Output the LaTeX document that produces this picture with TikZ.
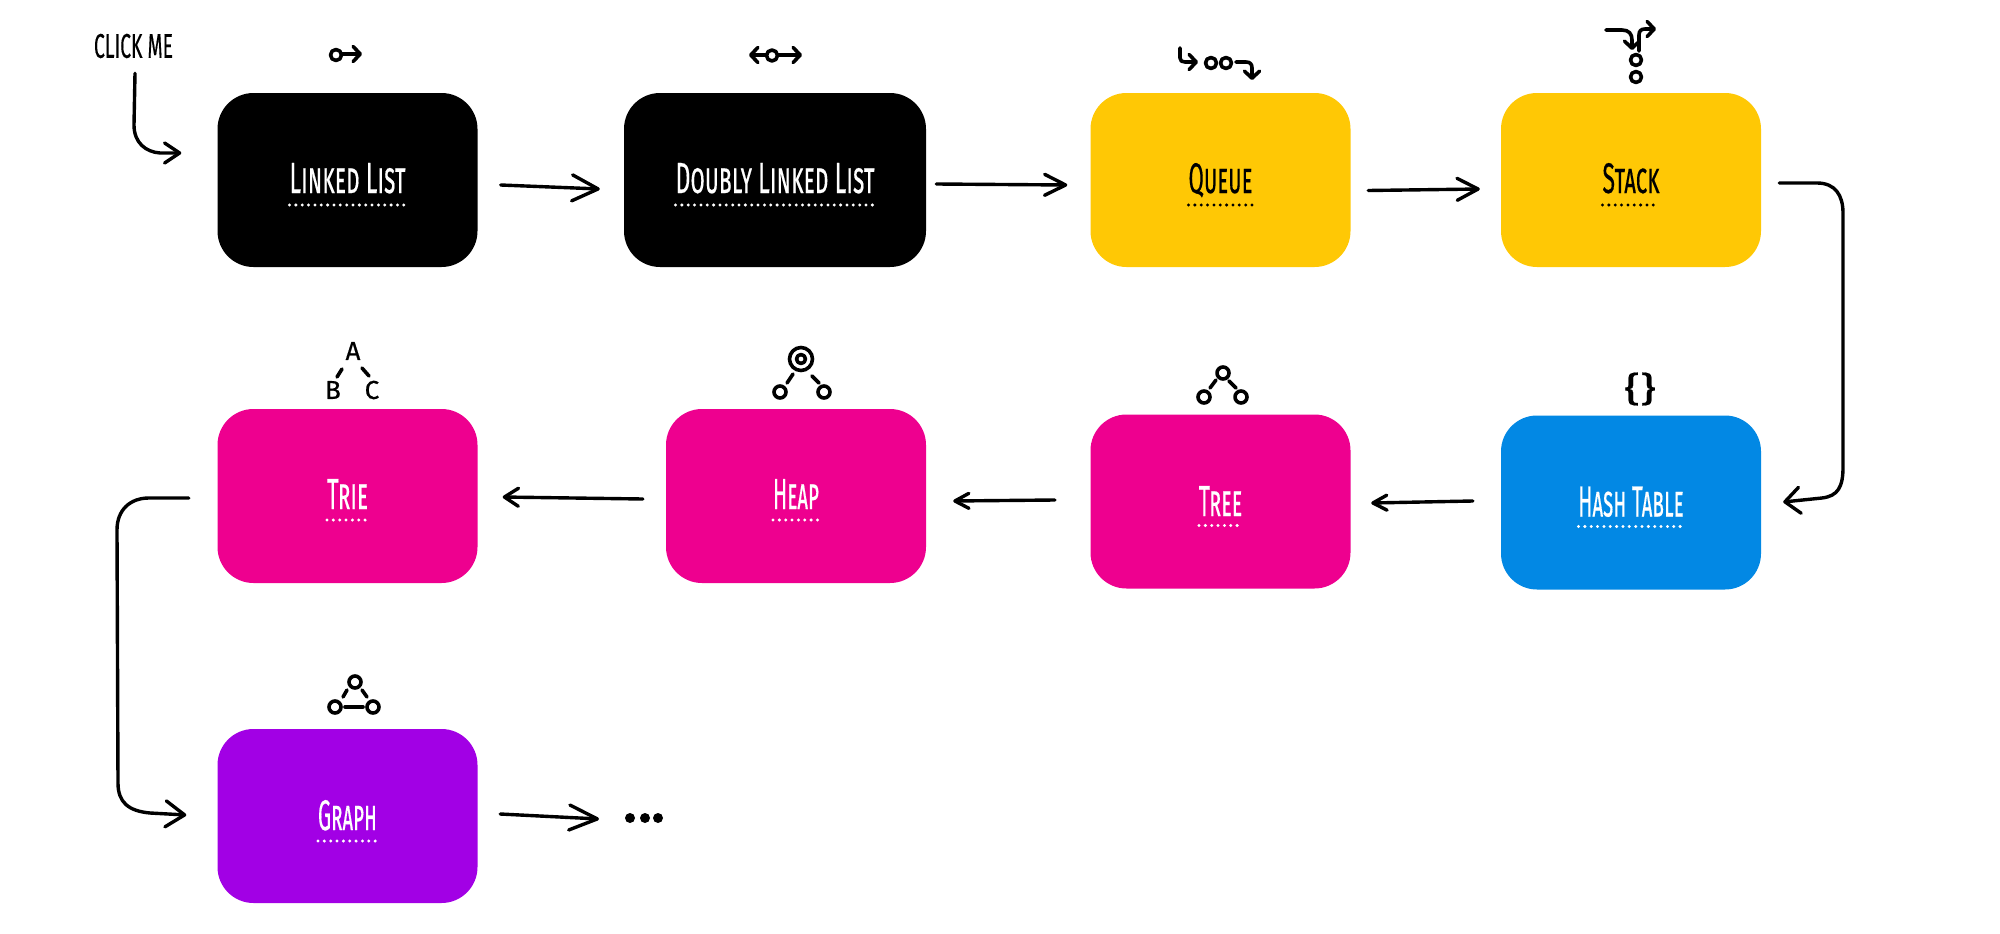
\documentclass[tikz,border=0pt]{standalone}
\usepackage{fontspec}
\usepackage{graphicx}
\usetikzlibrary{arrows.meta}
\setmainfont[Letters=SmallCaps,FakeBold=0.5]{Fira Sans}
\newfontfamily\capsfont[FakeBold=0.5]{Fira Sans}
\definecolor{cyellow}{HTML}{FFC805}
\definecolor{cpink}{HTML}{EE008F}
\definecolor{cblue}{HTML}{0288E4}
\definecolor{cpurple}{HTML}{A200E5}
\newcommand{\lab}[2]{\resizebox{#1pt}{30pt}{#2}}
\newcommand{\underdots}[3]{\draw[dotrule] ([shift={(-#2,#3)}]#1.center) -- ([shift={(#2,#3)}]#1.center);}
\tikzset{
  dsbox/.style={rectangle,rounded corners=36pt,fill=#1,draw=none,inner sep=0pt,
    minimum width=260pt,minimum height=174pt,text=white,text depth=0pt,text height=26pt},
  dotrule/.style={line width=3.3pt,line cap=round,dash pattern=on 0pt off 6.35pt,white},
  conn/.style={line width=3.4pt,line cap=round,line join=round,black},
  tipped/.style 2 args={-{Straight Barb[length=#1pt,width=#2pt,round]}},
  icon/.style={line width=3.6pt,line cap=round,line join=round,black},
  itip/.style={-{Straight Barb[length=7pt,width=15pt,round]}},
  glyph/.style={inner sep=0pt,font=\capsfont\fontsize{26}{26}\selectfont,text=black},
  dotnode/.style={circle,fill=black,inner sep=0pt,minimum size=10pt}
}
\begin{document}
\begin{tikzpicture}[x=1pt,y=-1pt]
\useasboundingbox[fill=white] (0,0) rectangle (2000,934);

% boxes
\node[dsbox=black] (ll) at (347.5,180) {\lab{116}{Linked List}};
\node[dsbox=black,minimum width=302pt] (dll) at (775,180) {\lab{199}{Doubly Linked List}};
\node[dsbox=cyellow,text=black] (queue) at (1220.5,180) {\lab{64}{Queue}};
\node[dsbox=cyellow,text=black] (stack) at (1631,180) {\lab{57}{Stack}};
\node[dsbox=cblue,text height=28pt] (hash) at (1631,502.5) {\lab{105.5}{Hash Table}};
\node[dsbox=cpink,text height=29pt] (tree) at (1220.5,501.5) {\lab{43.5}{Tree}};
\node[dsbox=cpink] (heap) at (796,496) {\lab{46}{Heap}};
\node[dsbox=cpink] (trie) at (347.5,496) {\lab{41}{Trie}};
\node[dsbox=cpurple,text height=28pt] (graph) at (347.5,816) {\lab{59}{Graph}};

% dotted rules under the titles
\underdots{ll}{58}{25}
\underdots{dll}{99.5}{25}
\begin{scope}[dotrule/.append style={black}]
\underdots{queue}{32}{25}
\underdots{stack}{28.5}{25}
\end{scope}
\underdots{hash}{52.5}{24}
\underdots{tree}{21.5}{24}
\underdots{heap}{23}{24}
\underdots{trie}{20.5}{24}
\underdots{graph}{29.5}{25}

% click me
\node[inner sep=0pt,text=black] (click) at (133.5,46) {\resizebox{79pt}{24pt}{\capsfont CLICK ME}};
\coordinate (clickin) at ([shift={(-36,-27)}]ll.west);
\draw[conn,tipped={15}{20}] ([xshift=1.5pt,yshift=-15pt]click.south) -- (134,125)
  .. controls (134,143) and (146,152) .. (160,153) -- (clickin);

% connectors
\draw[conn,tipped={26}{26}] ([shift={(23,5)}]ll.east) -- ([shift={(-24,9)}]dll.west);
\draw[conn,tipped={21}{21}] ([shift={(10,4)}]dll.east) -- ([shift={(-23,5)}]queue.west);
\draw[conn,tipped={21}{22}] ([shift={(17.5,10.5)}]queue.east) -- ([shift={(-21,9)}]stack.west);
\draw[conn,tipped={15}{26}] ([shift={(18,3)}]stack.east) -- (1817,183)
  .. controls (1835,183) and (1843,195) .. (1843,213) -- (1843,467)
  .. controls (1843,487) and (1838,496) .. (1822,498) -- ([shift={(22,-0.5)}]hash.east);
\draw[conn,tipped={14}{15}] ([shift={(-28,-1.5)}]hash.west) -- ([shift={(20.5,1.5)}]tree.east);
\draw[conn,tipped={14}{15}] ([shift={(-35.5,-1.5)}]tree.west) -- ([shift={(27,5)}]heap.east);
\draw[conn,tipped={14}{18}] ([shift={(-23,3)}]heap.west) -- ([shift={(25,1)}]trie.east);
\draw[conn,tipped={19}{26}] ([shift={(-28.5,2)}]trie.west) -- (149,498)
  .. controls (130,498) and (117,510) .. (117,530) -- (118,783)
  .. controls (118,802) and (128,811) .. (150,813) -- ([shift={(-31,-1)}]graph.west);

% trailing dots
\node[dotnode] (more1) at (630,818) {};
\node[dotnode] (more2) at (645,818) {};
\node[dotnode] (more3) at (658,818) {};
\draw[conn,tipped={28}{25}] ([shift={(22.5,-2)}]graph.east) -- ([xshift=-31pt,yshift=-1pt]more1.center);

\begin{scope}[icon]
% icon: linked list
\draw (336,55) circle[radius=5.5];
\draw[itip] (342,54) -- (362,54);
% icon: doubly linked list
\draw (772,55.5) circle[radius=5.5];
\draw[itip] (766,55) -- (749,55);
\draw[itip] (778,55) -- (802,55);
% icon: queue
\draw[itip] (1180,48) -- (1180,58) .. controls (1180,61) and (1182,62) .. (1185,62) -- (1198,62);
\draw (1211,63) circle[radius=5.5];
\draw (1226,63) circle[radius=5.5];
\draw[itip] (1236,62) -- (1246,62) .. controls (1250,62) and (1252,64) .. (1252,68) -- (1252,80);
% icon: stack
\draw[itip] (1606,30) -- (1622,30) .. controls (1629,30) and (1632,34) .. (1632,40) -- (1632,50);
\draw[itip] (1639,51) -- (1639,35) .. controls (1639,31) and (1641,29) .. (1645,29) -- (1656,29);
\draw (1636,60) circle[radius=5.5];
\draw (1636,77) circle[radius=5.5];
% icon: hash table
\node[glyph] (hashicon) at (1640,389) {\resizebox*{32pt}{33pt}{\{\}}};
% icon: tree
\draw (1223,373) circle[radius=6];
\draw (1204,397) circle[radius=6];
\draw (1241,397) circle[radius=6];
\draw (1216,380) -- (1210,388);
\draw (1229,381) -- (1236,388);
% icon: heap
\draw (801,359) circle[radius=11.5];
\draw (801,359) circle[radius=4.5];
\draw (793,374) -- (787,383);
\draw (812,376) -- (819,383);
\draw (780,392) circle[radius=6];
\draw (824,392) circle[radius=6];
% icon: trie
\node[glyph] (triea) at (353,351) {A};
\node[glyph] (trieb) at (333,390) {B};
\node[glyph] (triec) at (372,390) {C};
\draw (342,369) -- (337,377);
\draw (362,368) -- (369,376);
% icon: graph
\draw (355,682) circle[radius=6];
\draw (335,707) circle[radius=6];
\draw (373,707) circle[radius=6];
\draw (347,690) -- (343,697);
\draw (362,690) -- (367,697);
\draw (345,707) -- (363,707);
\end{scope}
\end{tikzpicture}
\end{document}
